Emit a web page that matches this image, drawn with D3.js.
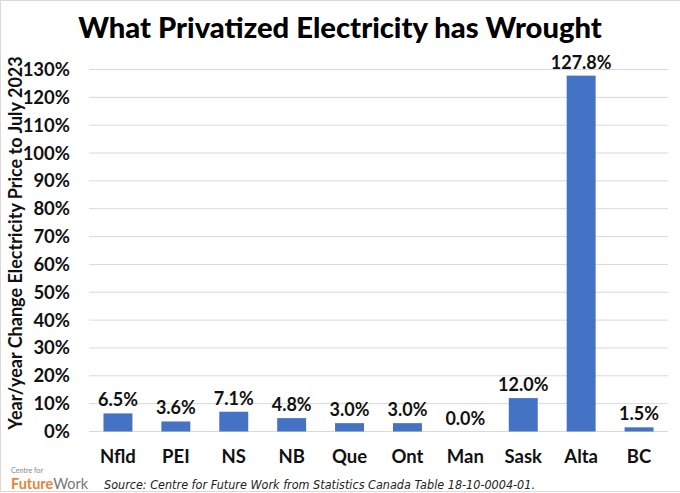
<!DOCTYPE html>
<html><head><meta charset="utf-8">
<script src="https://cdnjs.cloudflare.com/ajax/libs/d3/7.8.5/d3.min.js"></script>
<style>html,body{margin:0;padding:0;background:#fff}svg{display:block}text{font-family:Lato,"Open Sans",sans-serif}</style>
</head><body><svg id="c" width="680" height="493"></svg>
<script>
const categories=["Nfld","PEI","NS","NB","Que","Ont","Man","Sask","Alta","BC"];
const values=[6.5,3.6,7.1,4.8,3.0,3.0,0.0,12.0,127.8,1.5];
const yTicks=d3.range(0,131,10);
const svg=d3.select("#c");
svg.append("rect").attr("x",0.5).attr("y",0.5).attr("width",690).attr("height",491).attr("fill","#fff").attr("stroke","#d9d9d9");
const x=d3.scaleBand().domain(categories).range([89,668]).paddingInner(0.5).paddingOuter(0.25);
const y=d3.scaleLinear().domain([0,130]).range([431.5,69.5]);
svg.append("g").selectAll("line").data(yTicks).join("line")
 .attr("x1",89).attr("x2",668).attr("y1",d=>y(d)).attr("y2",d=>y(d)).attr("stroke","#d9d9d9").attr("stroke-width",1);
svg.append("g").selectAll("text").data(yTicks).join("text")
 .attr("x",70).attr("y",d=>y(d)+6.5).attr("text-anchor","end").attr("font-size",18.5).attr("font-weight",700).attr("fill","#111")
 .text(d=>d+"%");
svg.append("g").selectAll("rect").data(values).join("rect")
 .attr("x",(d,i)=>x(categories[i])).attr("width",x.bandwidth())
 .attr("y",d=>y(d)).attr("height",d=>y(0)-y(d)).attr("fill","#4472c4");
svg.append("g").selectAll("text").data(values).join("text")
 .attr("x",(d,i)=>x(categories[i])+x.bandwidth()/2).attr("y",d=>y(d)-7)
 .attr("text-anchor","middle").attr("font-size",18).attr("font-weight",700).attr("fill","#111")
 .text(d=>d.toFixed(1)+"%");
svg.append("g").selectAll("text").data(categories).join("text")
 .attr("x",d=>x(d)+x.bandwidth()/2).attr("y",463).attr("text-anchor","middle")
 .attr("font-size",18.5).attr("font-weight",700).attr("fill","#111").text(d=>d);
svg.append("text").attr("x",340).attr("y",38).attr("text-anchor","middle").attr("font-size",29.2).attr("font-weight",900).attr("fill","#000").text("What Privatized Electricity has Wrought");
svg.append("text").attr("transform","translate(22,243) rotate(-90)").attr("text-anchor","middle").attr("font-size",18).attr("font-weight",700).attr("fill","#111").text("Year/year Change Electricity Price to July 2023");
svg.append("text").attr("x",104).attr("y",489).attr("font-size",13).attr("font-style","italic").attr("fill","#222").attr("style","font-family:'DejaVu Sans'").attr("textLength",431).attr("lengthAdjust","spacingAndGlyphs").text("Source: Centre for Future Work from Statistics Canada Table 18-10-0004-01.");
svg.append("text").attr("x",11).attr("y",473).attr("font-size",8).attr("fill","#888").attr("textLength",32).attr("lengthAdjust","spacingAndGlyphs").text("Centre for");
const lg=svg.append("text").attr("x",11).attr("y",489).attr("font-size",15).attr("textLength",77).attr("lengthAdjust","spacingAndGlyphs");
lg.append("tspan").attr("fill","#e8833a").attr("font-weight",700).text("Future");
lg.append("tspan").attr("fill","#777").text("Work");
</script></body></html>
